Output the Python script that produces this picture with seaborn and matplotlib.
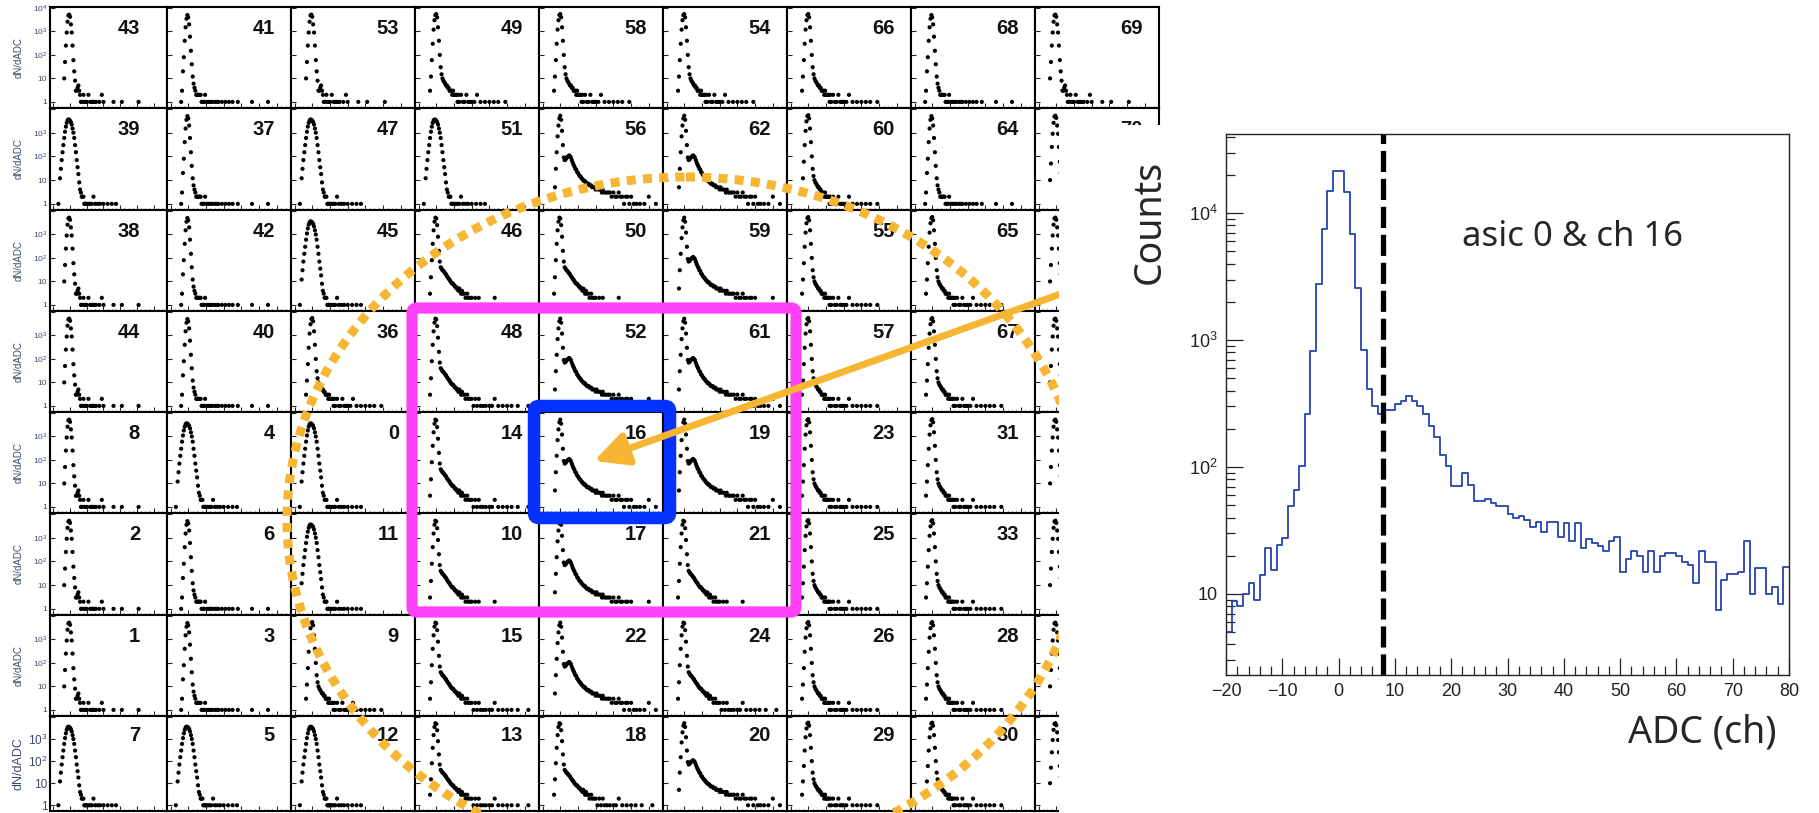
import numpy as np
import pandas as pd
import matplotlib
matplotlib.use("Agg")
import matplotlib.pyplot as plt
import seaborn as sns
from matplotlib.patches import FancyBboxPatch, Ellipse, Rectangle
from matplotlib.ticker import FixedLocator, NullFormatter, MultipleLocator, LogLocator

# ---------------- data ----------------
channel_rows = [
    ["43", "41", "53", "49", "58", "54", "66", "68", "69"],
    ["39", "37", "47", "51", "56", "62", "60", "64", "70"],
    ["38", "42", "45", "46", "50", "59", "55", "65", ""],
    ["44", "40", "36", "48", "52", "61", "57", "67", ""],
    ["8", "4", "0", "14", "16", "19", "23", "31", ""],
    ["2", "6", "11", "10", "17", "21", "25", "33", ""],
    ["1", "3", "9", "15", "22", "24", "26", "28", ""],
    ["7", "5", "12", "13", "18", "20", "29", "30", ""],
]
profile_rows = [
    ["n1", "n2", "n1", "m", "m", "m", "m", "n2", "n1"],
    ["w", "n2", "w", "w", "t1", "t1", "m", "n2", "n1"],
    ["n1", "n2", "w", "t2", "t2", "t1", "m", "m", "n1"],
    ["n1", "n2", "m", "t2", "t1", "t1", "m", "m", "n1"],
    ["n1", "w", "w", "t2", "t1", "t1", "m", "m", "n1"],
    ["n1", "n2", "w", "t2", "t1", "t2", "m", "m", "n1"],
    ["n1", "n2", "m", "t2", "t1", "t2", "m", "m", "n1"],
    ["w", "w", "w", "t2", "t2", "t1", "m", "m", "n1"],
]

n1_adc = [-7, -6, -5, -4, -3, -2, -1, 0, 1, 2, 3, 4, 5, 6, 7, 8, 9, 10, 11, 12, 13, 14,
          16, 17, 19, 20, 22, 24, 26, 27, 29, 31, 35, 38, 40, 52, 62, 82]
n1_cnt = [10, 50, 250, 900, 2600, 4800, 5200, 4200, 2000, 900, 250, 60, 20, 8, 3, 3, 4, 5, 3, 2, 1, 1,
          2, 1, 1, 1, 2, 1, 1, 1, 1, 1, 1, 2, 1, 1, 1, 1]

n2_adc = [-8, -7, -6, -5, -4, -3, -2, -1, 0, 1, 2, 3, 4, 5, 6, 7, 8, 9, 10, 11, 12, 13, 14, 15,
          17, 18, 19, 21, 23, 25, 27, 30, 32, 34, 38, 42, 46, 50, 56, 72, 90]
n2_cnt = [1, 3, 20, 80, 400, 1500, 3500, 5000, 4000, 2000, 600, 150, 40, 12, 6, 4, 3, 2, 2, 2, 2, 2, 2, 1,
          1, 1, 2, 1, 1, 1, 1, 1, 1, 1, 1, 1, 1, 1, 1, 1, 1]

w_adc = [-14, -12, -11, -10, -9, -8, -7, -6, -5, -4, -3, -2, -1, 0, 1, 2, 3, 4, 5, 6, 7, 8, 9, 10,
         11, 12, 13, 14, 15, 16, 17, 18, 19, 20, 22, 24, 26, 28, 30, 33, 36, 40, 45, 50, 55]
w_cnt = [1, 12, 30, 70, 150, 300, 600, 1100, 1800, 2600, 3300, 3600, 3500, 3200, 2800, 2200, 1500, 1000,
         600, 300, 150, 70, 35, 18, 8, 4, 3, 2, 2, 2, 1, 1, 1, 1, 1, 1, 1, 2, 1, 1, 1, 1, 1, 1, 1]

m_adc = [-7, -6, -5, -4, -3, -2, -1, 0, 1, 2, 3, 4, 5, 6, 7, 8, 9, 10, 11, 12, 13, 14, 15, 16, 17,
         18, 19, 20, 21, 22, 23, 24, 25, 26, 28, 30, 32, 34, 36, 38, 40, 43, 46, 50, 55, 60, 65, 70, 78]
m_cnt = [3, 12, 60, 300, 1200, 3000, 5000, 5500, 4000, 1500, 400, 100, 30, 15, 10, 8, 7, 6, 5, 5, 4, 4,
         3, 3, 3, 2, 3, 2, 2, 2, 2, 1, 2, 1, 2, 1, 1, 2, 1, 1, 1, 1, 2, 1, 1, 1, 1, 1, 1]

t1_adc = [-6, -5, -4, -3, -2, -1, 0, 1, 2, 3, 4, 5, 6, 7, 8, 9, 10, 11, 12, 13, 14, 15, 16, 17, 18,
          19, 20, 21, 22, 23, 24, 25, 26, 27, 28, 29, 30, 32, 33, 35, 36, 38, 40, 41, 43, 45, 47, 48,
          50, 52, 54, 56, 58, 60, 62, 64, 66, 68, 70, 72, 74, 76, 78, 80, 83, 86, 90, 95, 100, 108]
t1_cnt = [5, 30, 150, 700, 2000, 4000, 5200, 3500, 1200, 300, 90, 70, 75, 85, 95, 100, 110, 100, 90,
          70, 55, 45, 38, 30, 28, 22, 20, 17, 15, 14, 12, 11, 10, 9, 9, 8, 7, 7, 6, 6, 5, 5, 4, 5, 4,
          4, 3, 4, 3, 3, 3, 3, 2, 3, 2, 2, 3, 2, 2, 1, 2, 2, 1, 2, 1, 1, 1, 1, 2, 1]

t2_adc = [-7, -6, -5, -4, -3, -2, -1, 0, 1, 2, 3, 4, 5, 6, 7, 8, 9, 10, 11, 12, 13, 14, 15, 16, 17,
          18, 19, 20, 21, 22, 23, 24, 25, 26, 27, 28, 29, 30, 32, 33, 35, 36, 38, 40, 42, 44, 46, 48,
          50, 53, 56, 60, 63, 66, 70, 75, 80, 85, 92, 104]
t2_cnt = [3, 15, 80, 400, 1500, 3500, 5200, 4800, 2500, 800, 200, 70, 40, 35, 30, 28, 25, 22, 20, 17,
          15, 13, 12, 10, 9, 8, 8, 7, 6, 6, 5, 5, 4, 5, 4, 3, 4, 3, 3, 2, 3, 2, 2, 2, 1, 2, 1, 2, 1, 1,
          1, 1, 1, 2, 1, 1, 1, 1, 1, 1]

profiles = {"n1": (n1_adc, n1_cnt), "n2": (n2_adc, n2_cnt), "w": (w_adc, w_cnt),
            "m": (m_adc, m_cnt), "t1": (t1_adc, t1_cnt), "t2": (t2_adc, t2_cnt)}

# asic 0 & ch 16 histogram, bins of 1 ADC from -20 to 80
hist_bin_left = list(range(-20, 80))
hist_counts = [5, 8.8, 8.1, 10, 12.2, 8.9, 14.1, 23, 15.4, 24.3,
               27.6, 49, 66, 102, 262, 824, 2750, 7550, 15000, 21600,
               21600, 14600, 6850, 2570, 842, 415, 300, 260, 280, 280,
               311, 333, 361, 333, 300, 260, 210, 173, 125, 101,
               71, 71, 90, 72, 54, 54, 56, 52, 49, 49,
               43, 40, 41, 38, 34, 37, 31, 37, 37, 28,
               36, 26, 36, 23, 27, 25, 24, 22, 26, 28,
               15, 19, 22, 20, 15, 22, 15, 20, 21, 21,
               20, 18, 17, 12.2, 22, 18, 18, 7.5, 13, 14.3,
               14.3, 15, 26, 10, 16, 16, 10, 11.4, 8.3, 16.3]
threshold_adc = 7.8

# ---------------- style ----------------
sns.set_style("white")
plt.rcParams['font.family'] = ['Liberation Sans', 'DejaVu Sans']
plt.rcParams['mathtext.fontset'] = 'custom'
plt.rcParams['mathtext.rm'] = 'Liberation Sans'
plt.rcParams['mathtext.it'] = 'Liberation Sans:italic'
plt.rcParams['axes.unicode_minus'] = True

W, H = 1819, 813
fig = plt.figure(figsize=(W / 100, H / 100), dpi=100)
fig.patch.set_facecolor('white')


def rect(x0, y0, x1, y1):
    return [x0 / W, 1 - y1 / H, (x1 - x0) / W, (y1 - y0) / H]


col_edges = [50, 167, 291, 415, 539, 663, 787, 911, 1035, 1159]
row_edges = [7, 108, 210, 311, 412, 513, 615, 716, 811]
label_col = '#3c4a70'
big_font = ['Noto Sans', 'DejaVu Sans']

for r in range(8):
    for c in range(9):
        ax = fig.add_axes(rect(col_edges[c], row_edges[r], col_edges[c + 1], row_edges[r + 1]))
        xs, ys = profiles[profile_rows[r][c]]
        sns.scatterplot(x=xs, y=ys, ax=ax, s=9, color='black', edgecolor='none',
                        linewidth=0, legend=False)
        ax.set_yscale('log')
        ax.set_xlim(-24, 116)
        ax.set_ylim(0.55, 11000)
        ax.set_xlabel('')
        ax.set_ylabel('')
        for sp in ax.spines.values():
            sp.set_linewidth(1.5)
            sp.set_color('black')
        ax.xaxis.set_major_locator(MultipleLocator(20))
        ax.xaxis.set_minor_locator(MultipleLocator(5))
        ax.yaxis.set_major_locator(FixedLocator([1, 10, 100, 1000, 10000]))
        ax.yaxis.set_minor_locator(LogLocator(subs=np.arange(2, 10)))
        ax.yaxis.set_minor_formatter(NullFormatter())
        ax.tick_params(which='major', direction='in', length=3.5, width=0.8,
                       left=True, bottom=True, top=False, right=False,
                       labelbottom=False, labelleft=(c == 0))
        ax.tick_params(which='minor', direction='in', length=1.8, width=0.6,
                       left=True, bottom=True, top=False, right=False)
        fs = 8.5 if r == 7 else 6
        if c == 0:
            labs = ['1', '10', '$10^{2}$', '$10^{3}$', '$10^{4}$' if r == 0 else '']
            ax.set_yticklabels(labs, fontsize=fs, color=label_col)
            ax.tick_params(axis='y', pad=2)
        num = channel_rows[r][c]
        if num:
            ax.text(0.77 if c == 0 else 0.87, 0.79, num, transform=ax.transAxes,
                    ha='right', va='center', fontsize=14.5, fontweight='bold', color='#111111')
    yc = (row_edges[r] + row_edges[r + 1]) / 2
    fig.text(19 / W, 1 - yc / H, 'dN/dADC', rotation=90, ha='center', va='center',
             fontsize=9 if r == 7 else 7, color=label_col)

# ---------------- overlay annotations ----------------
ov = fig.add_axes([0, 0, 1, 1])
ov.set_xlim(0, W)
ov.set_ylim(H, 0)
ov.axis('off')
ov.set_zorder(5)
orange = '#f6b533'
ell = Ellipse((686, 520), 2 * 399, 2 * 343, fill=False, edgecolor=orange, lw=6.5,
              linestyle=(0, (1, 0.8)), zorder=1)
ell.set_capstyle('butt')
ov.add_patch(ell)
ov.add_patch(FancyBboxPatch((412, 308), 384, 304, boxstyle='round,pad=0,rounding_size=5',
                            fill=False, edgecolor='#ff40f6', lw=8, zorder=2))
ov.add_patch(FancyBboxPatch((534, 406), 136, 112, boxstyle='round,pad=0,rounding_size=5',
                            fill=False, edgecolor='#0632ff', lw=9, zorder=3))
ov.annotate('', xy=(594, 461), xytext=(1080, 287),
            arrowprops=dict(arrowstyle='-|>,head_length=1.0,head_width=0.5', color=orange,
                            lw=5, mutation_scale=20, shrinkA=0, shrinkB=0), zorder=4)
ov.add_patch(Rectangle((1059, 125), W - 1059, H - 125, facecolor='white', edgecolor='none',
                       zorder=6))

# ---------------- right histogram ----------------
axh = fig.add_axes(rect(1226, 134, 1789, 675))
axh.set_zorder(10)
hist_df = pd.DataFrame({'adc': [b + 0.5 for b in hist_bin_left], 'counts': hist_counts})
sns.histplot(data=hist_df, x='adc', weights='counts', bins=100, binrange=(-20, 80),
             element='step', fill=False, color='#2443b3', linewidth=1.3, ax=axh)
axh.set_yscale('log')
axh.set_xlim(-20, 80)
axh.set_ylim(2.3, 42000)
axh.axvline(threshold_adc, color='black', lw=3.8, dashes=(4, 1.3))
axh.set_xlabel('')
axh.set_ylabel('')
for sp in axh.spines.values():
    sp.set_linewidth(1.0)
    sp.set_color('#222222')
axh.xaxis.set_major_locator(MultipleLocator(10))
axh.xaxis.set_minor_locator(MultipleLocator(2))
axh.yaxis.set_major_locator(FixedLocator([10, 100, 1000, 10000]))
axh.set_yticklabels(['10', '$10^{2}$', '$10^{3}$', '$10^{4}$'])
axh.yaxis.set_minor_locator(LogLocator(subs=np.arange(2, 10)))
axh.yaxis.set_minor_formatter(NullFormatter())
axh.tick_params(which='major', direction='in', length=12.5, width=0.9, labelsize=13,
                left=True, bottom=True, top=False, right=False, pad=6, colors='#222222')
axh.tick_params(which='minor', direction='in', length=6.5, width=0.9,
                left=True, bottom=True, top=False, right=False, colors='#222222')
axh.text(0.419, 0.81, 'asic 0 & ch 16', transform=axh.transAxes, fontsize=25,
         family=big_font, va='center', ha='left')

fig.text(1150 / W, 1 - 222 / H, 'Counts', rotation=90, ha='center', va='center',
         fontsize=27, family=big_font, zorder=20)
fig.text(1776 / W, 1 - 732 / H, 'ADC (ch)', ha='right', va='center',
         fontsize=27, family=big_font, zorder=20)

fig.savefig('out.png', dpi=100, facecolor='white')
